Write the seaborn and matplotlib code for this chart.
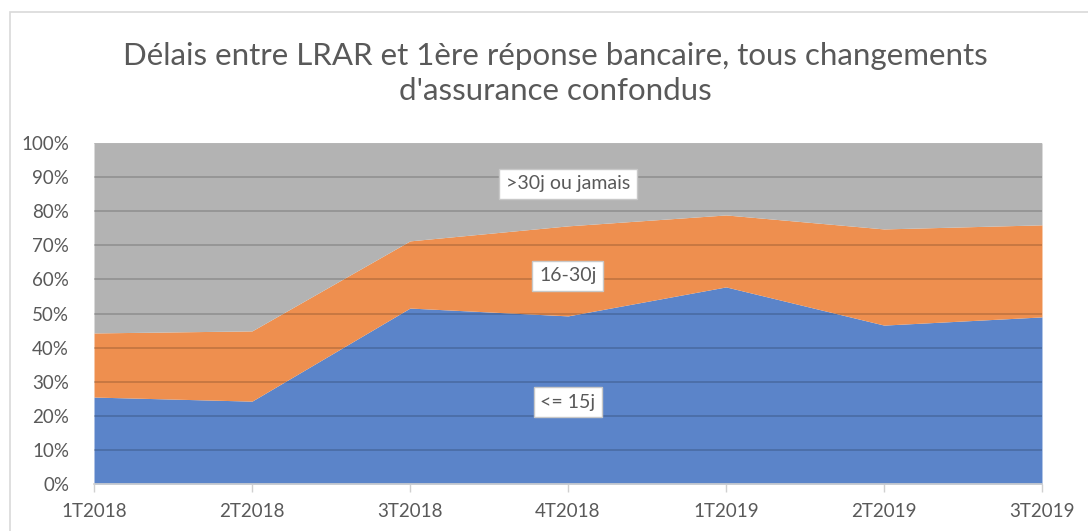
import numpy as np
import pandas as pd
import matplotlib
matplotlib.use("Agg")
import matplotlib.pyplot as plt
from matplotlib.patches import Rectangle
from matplotlib.ticker import PercentFormatter
import seaborn as sns

# data (shares in %)
trimestres = ["1T2018", "2T2018", "3T2018", "4T2018", "1T2019", "2T2019", "3T2019"]
moins_15j = [25.5, 24.3, 51.6, 49.3, 57.8, 46.6, 49.0]
entre_16_30j = [18.8, 20.6, 19.7, 26.4, 21.1, 28.2, 27.0]
plus_30j = [100 - a - b for a, b in zip(moins_15j, entre_16_30j)]
series_labels = ["<= 15j", "16-30j", ">30j ou jamais"]
label_y = [24, 61, 88]

df = pd.DataFrame({"trimestre": trimestres, series_labels[0]: moins_15j,
                   series_labels[1]: entre_16_30j, series_labels[2]: plus_30j})

sns.set_theme(style="white")
plt.rcParams["font.family"] = ["Lato", "DejaVu Sans"]

colors = ["#5b84c9", "#ee8f4f", "#b3b3b3"]
txt_grey = "#595959"

fig = plt.figure(figsize=(10.88, 5.31), dpi=100)
ax = fig.add_axes([0.0864, 0.0885, 0.8713, 0.6422])

x = np.arange(len(df))
ax.stackplot(x, df[series_labels[0]], df[series_labels[1]], df[series_labels[2]],
             colors=colors, linewidth=0)

ax.set_xlim(0, len(df) - 1)
ax.set_ylim(0, 100)
ax.set_yticks(np.arange(0, 101, 10))
ax.yaxis.set_major_formatter(PercentFormatter(decimals=0))
ax.set_xticks(x)
ax.set_xticklabels(df["trimestre"])
ax.tick_params(axis="y", length=0, pad=18, labelsize=13.5, labelcolor=txt_grey)
ax.tick_params(axis="x", length=6, width=1, color="#d0d0d0", pad=8,
               labelsize=13.5, labelcolor=txt_grey, bottom=True)
for v in np.arange(10, 101, 10):
    ax.axhline(v, color="black", alpha=0.16, lw=1.4, zorder=3)
for s in ["top", "right", "left"]:
    ax.spines[s].set_visible(False)
ax.spines["bottom"].set_color("#d0d0d0")
ax.spines["bottom"].set_linewidth(1.2)

mid = (len(df) - 1) / 2
for lab, yy in zip(series_labels, label_y):
    ax.text(mid, yy, lab, ha="center", va="center", fontsize=14, color=txt_grey,
            zorder=5, bbox=dict(boxstyle="square,pad=0.35", fc="white", ec="#c8c8c8", lw=1))

fig.text(0.51, 0.862, "Délais entre LRAR et 1ère réponse bancaire, tous changements\nd'assurance confondus",
         ha="center", va="center", fontsize=22.5, color=txt_grey, linespacing=1.3)

fig.patches.append(Rectangle((0.009, -0.01), 1.0, 0.988, transform=fig.transFigure,
                             fill=False, ec="#d9d9d9", lw=1.2))

fig.savefig("out.png", dpi=100)
